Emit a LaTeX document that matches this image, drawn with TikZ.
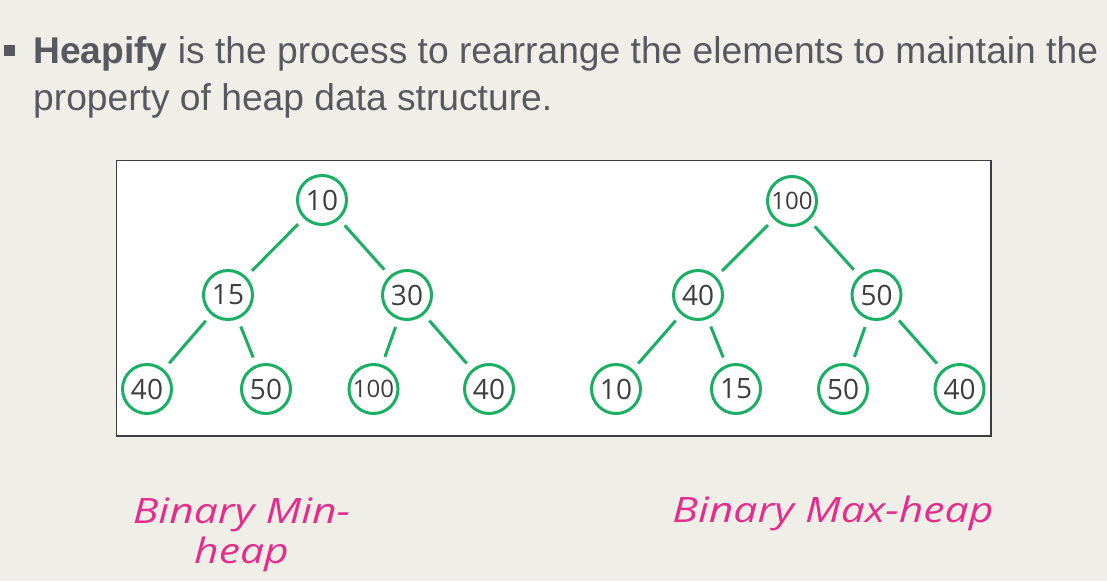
\documentclass[tikz,border=0pt]{standalone}
\usepackage{fontspec}
\setmainfont{Liberation Sans}
\newfontfamily\nodefont{Open Sans}
\newfontfamily\lblfont{Open Sans}
\definecolor{bgc}{RGB}{240,239,231}
\definecolor{txtc}{RGB}{88,89,96}
\definecolor{grn}{RGB}{27,175,99}
\definecolor{numc}{RGB}{62,62,62}
\definecolor{boxc}{RGB}{60,60,70}
\definecolor{pinkc}{RGB}{228,46,142}
\tikzset{
  hn/.style={circle, draw=grn, line width=3pt, fill=white, minimum size=49pt, inner sep=0pt,
    text=numc, font=\nodefont\fontsize{28}{28}\selectfont},
  hns/.style={hn, font=\nodefont\fontsize{24}{24}\selectfont},
  ed/.style={draw=grn, line width=3pt, shorten <=8pt, shorten >=8pt},
  head/.style={anchor=base west, inner sep=0pt, text=txtc, font=\fontsize{37.2}{40}\selectfont},
  lbl/.style={inner sep=0pt, text=pinkc, font=\lblfont\itshape\fontsize{35}{38}\selectfont}
}
\begin{document}
\begin{tikzpicture}[x=1pt,y=-1pt]
\fill[bgc] (0,0) rectangle (1107,581);
\useasboundingbox (0,0) rectangle (1107,581);
% bullet
\fill[txtc] (4,45) rectangle (15,56);
\node[head] (h1) at (33,63.5) {\textbf{Heapify} is the process to rearrange the elements to maintain the};
\node[head] (h2) at (33,110) {property of heap data structure.};
% box
\draw[boxc, line width=1.3pt, fill=white] (116.5,160.5) rectangle (991,436);
% min heap
\node[hn] (a1) at (322,200) {10};
\node[hn] (a2) at (228,295) {15};
\node[hn] (a3) at (407,295) {30};
\node[hn] (a4) at (147,389) {40};
\node[hn] (a5) at (266,389) {50};
\node[hns] (a6) at (373.5,389) {100};
\node[hn] (a7) at (489,389) {40};
\draw[ed] (a1) -- (a2);
\draw[ed] (a1) -- (a3);
\draw[ed] (a2) -- (a4);
\draw[ed] (a2) -- (a5);
\draw[ed] (a3) -- (a6);
\draw[ed] (a3) -- (a7);
% max heap
\node[hns] (b1) at (792,201) {100};
\node[hn] (b2) at (698,295) {40};
\node[hn] (b3) at (876.5,295) {50};
\node[hn] (b4) at (616,389) {10};
\node[hn] (b5) at (736,389) {15};
\node[hn] (b6) at (843,389) {50};
\node[hn] (b7) at (959.5,389) {40};
\draw[ed] (b1) -- (b2);
\draw[ed] (b1) -- (b3);
\draw[ed] (b2) -- (b4);
\draw[ed] (b2) -- (b5);
\draw[ed] (b3) -- (b6);
\draw[ed] (b3) -- (b7);
% labels
\node[lbl, anchor=base] (l1) at (241.5,523) {\scalebox{1.22}[1]{Binary Min-}};
\node[lbl, anchor=base] (l2) at (241.5,563) {\scalebox{1.22}[1]{heap}};
\node[lbl, anchor=base] (l3) at (833,522) {\scalebox{1.22}[1]{Binary Max-heap}};
\end{tikzpicture}
\end{document}
